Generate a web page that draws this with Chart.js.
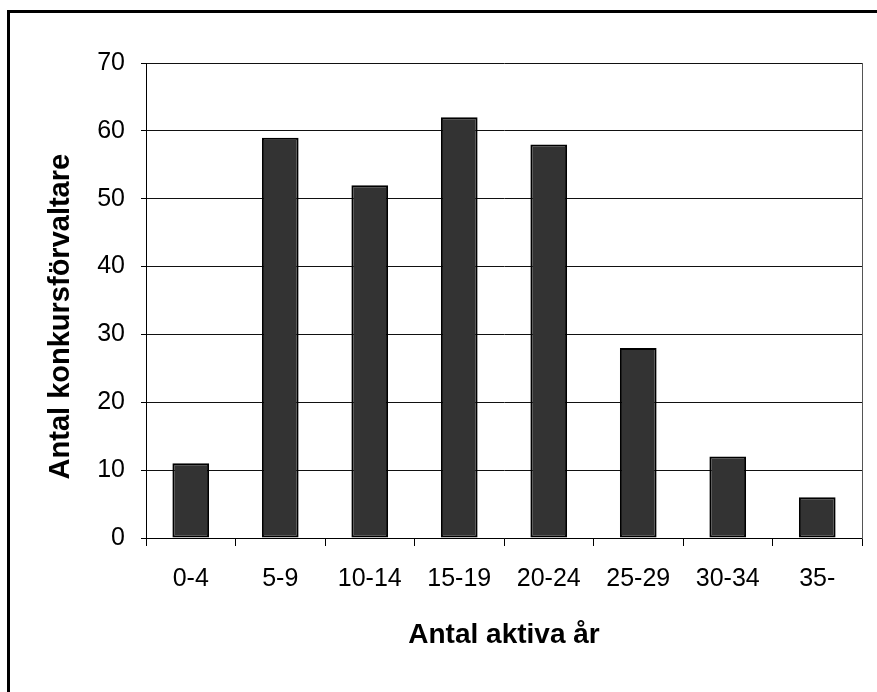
<!DOCTYPE html>
<html>
<head>
<meta charset="utf-8">
<script src="https://cdn.jsdelivr.net/npm/chart.js@4/dist/chart.umd.min.js"></script>
<style>
  html, body { margin: 0; padding: 0; background: #fff; overflow: hidden; width: 877px; height: 692px; }
  #wrap { position: relative; width: 877px; height: 692px; overflow: hidden; }
  #c { position: absolute; left: 0; top: 0; }
  .fline { position: absolute; background: #000; pointer-events: none; }
  #ftop { left: 7px; top: 10px; width: 870px; height: 3px; }
  #fleft { left: 7px; top: 10px; width: 3px; height: 682px; }
</style>
</head>
<body>
<div id="wrap">
  <canvas id="c" width="877" height="692"></canvas>
  <div id="ftop" class="fline"></div>
  <div id="fleft" class="fline"></div>
</div>
<script>
const categories = ['0-4', '5-9', '10-14', '15-19', '20-24', '25-29', '30-34', '35-'];
const counts = [11, 59, 52, 62, 58, 28, 12, 6];
const yTitle = 'Antal konkursförvaltare';
const xTitle = 'Antal aktiva år';
const yMin = 0, yMax = 70, yStep = 10;

const FONT = "'Liberation Sans', Arial, sans-serif";

new Chart(document.getElementById('c'), {
  type: 'bar',
  data: {
    labels: categories,
    datasets: [{
      data: counts,
      backgroundColor: '#333333',
      borderColor: '#000000',
      borderWidth: 2,
      borderSkipped: false,
      barPercentage: 0.41,
      categoryPercentage: 1.0
    }]
  },
  options: {
    responsive: false,
    devicePixelRatio: 1,
    animation: false,
    layout: { padding: { left: 0, top: 63, right: 15, bottom: 0 } },
    plugins: { legend: { display: false }, tooltip: { enabled: false } },
    scales: {
      x: {
        position: 'bottom',
        offset: true,
        grid: { drawOnChartArea: false, drawTicks: true, tickLength: 8, color: '#000', offset: true },
        border: { display: true, color: '#000', width: 1 },
        ticks: { color: '#000', font: { family: FONT, size: 25 }, padding: 18, maxRotation: 0, autoSkip: false },
        title: { display: true, text: xTitle, color: '#000',
                 font: { family: FONT, size: 28, weight: 'bold' }, padding: { top: 0, bottom: 40 } },
        afterFit: (s) => { s.height = 154; }
      },
      y: {
        position: 'left',
        min: yMin, max: yMax,
        grid: { color: '#111', lineWidth: 1, drawTicks: true, tickLength: 5, tickColor: '#000' },
        border: { display: true, color: '#000', width: 1 },
        ticks: { stepSize: yStep, color: '#000', font: { family: FONT, size: 25 }, padding: 16 },
        title: { display: true, text: yTitle + '    ', color: '#000',
                 font: { family: FONT, size: 29, weight: 'bold' }, padding: { top: 44, bottom: 0 } },
        afterFit: (s) => { s.width = 146; }
      },
      yRight: {
        position: 'right',
        display: true,
        min: yMin, max: yMax,
        grid: { drawOnChartArea: false, drawTicks: false },
        border: { display: true, color: '#555', width: 1 },
        ticks: { display: false },
        afterFit: (s) => { s.width = 0; }
      }
    }
  }
});
</script>
</body>
</html>
